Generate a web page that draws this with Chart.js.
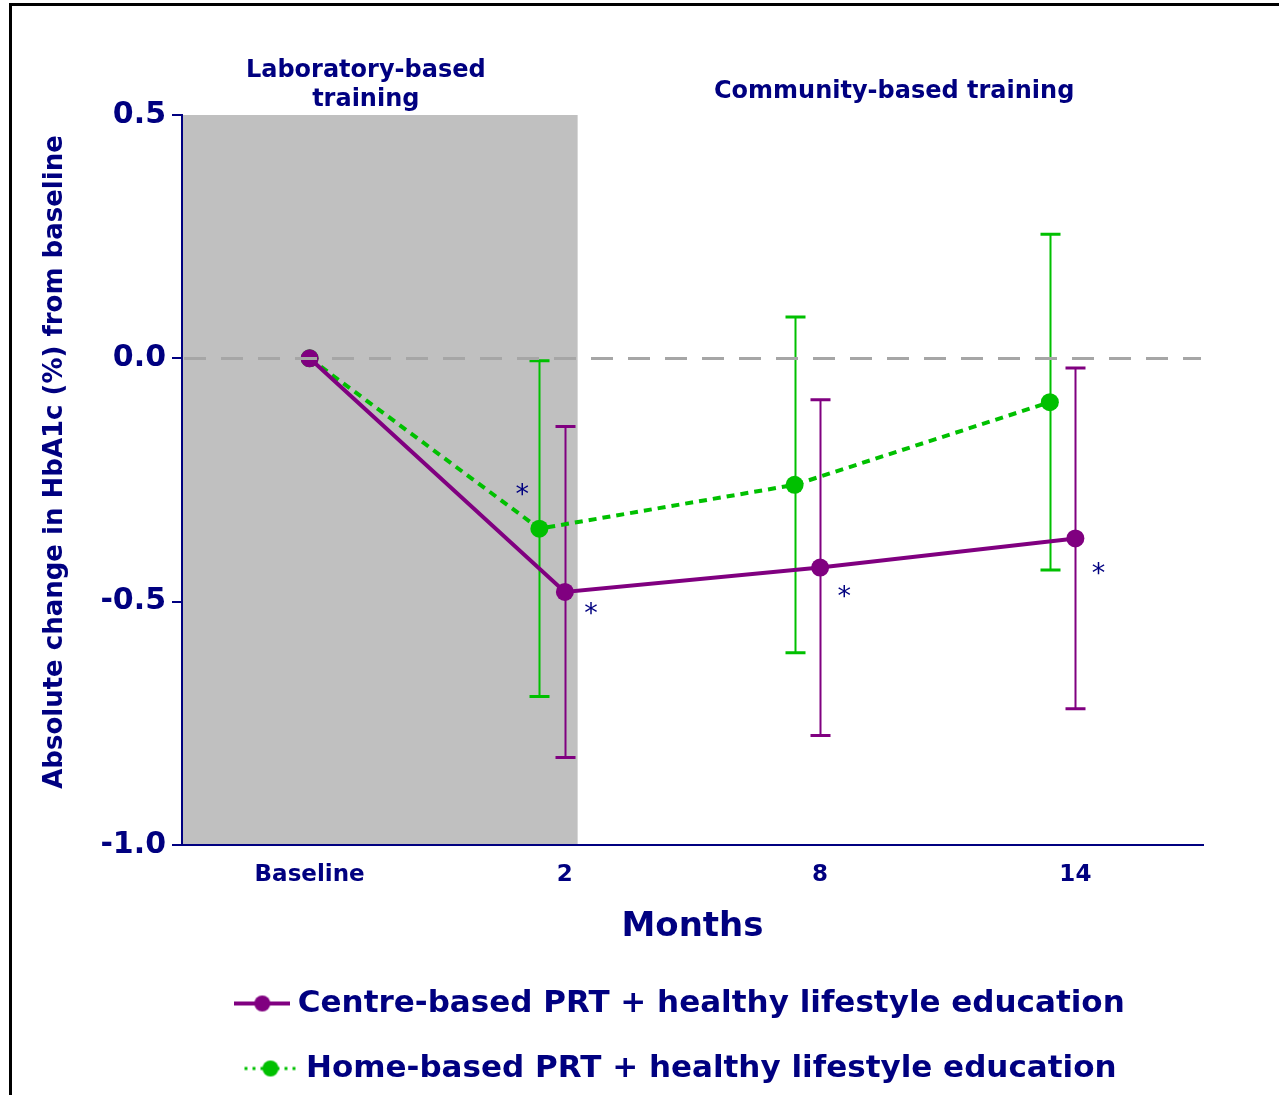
<!DOCTYPE html>
<html>
<head>
<meta charset="utf-8">
<script src="https://cdn.jsdelivr.net/npm/chart.js@4"></script>
<style>
  html, body { margin: 0; padding: 0; background: #fff; overflow: hidden; }
  #wrap { position: relative; width: 1279px; height: 1095px; overflow: hidden; }
  #frame { position: absolute; left: 9px; top: 3px; width: 1300px; height: 1120px;
           border-left: 3px solid #000; border-top: 3px solid #000; }
  canvas { position: absolute; left: 0; top: 0; }
</style>
</head>
<body>
<div id="wrap">
  <div id="frame"></div>
  <canvas id="chart" width="1279" height="1095"></canvas>
</div>
<script>
// Time points (months) and mean change in HbA1c (%) with error half-widths
const timepoints = ['Baseline', '2', '8', '14'];
const centreMean = [0, -0.48, -0.43, -0.37];
const centreErr  = [0, 0.34, 0.345, 0.35];
const homeMean   = [0, -0.35, -0.26, -0.09];
const homeErr    = [0, 0.345, 0.345, 0.345];
// significant within-group change from baseline
const centreSig  = [false, true, true, true];
const homeSig    = [false, true, false, false];
const yTicks     = [-1.0, -0.5, 0.0, 0.5];
const seriesNames = ['Centre-based PRT + healthy lifestyle education',
                     'Home-based PRT + healthy lifestyle education'];
const phaseNames = [['Laboratory-based', 'training'], ['Community-based training']];
const labPhaseEnd = 1.05;   // end of the laboratory phase on the x axis

const NAVY = '#000080';
const PURPLE = '#800080';
const GREEN = '#00c000';
const FONT = '"DejaVu Sans", Verdana, sans-serif';

// home-based points are dodged slightly left of the time point
const homeX = i => (i === 0 ? 0 : i - 0.1);

function legendIcon(color, dotted) {
  const c = document.createElement('canvas');
  c.width = 56; c.height = 22;
  const g = c.getContext('2d');
  g.strokeStyle = color;
  g.fillStyle = color;
  if (dotted) {
    g.lineWidth = 3;
    g.setLineDash([3, 5]);
    g.beginPath(); g.moveTo(2, 11); g.lineTo(56, 11); g.stroke();
  } else {
    g.lineWidth = 4;
    g.beginPath(); g.moveTo(0, 11); g.lineTo(56, 11); g.stroke();
  }
  g.beginPath(); g.arc(28, 11, 8, 0, Math.PI * 2); g.fill();
  return c;
}
const icons = [legendIcon(PURPLE, false), legendIcon(GREEN, true)];

const decorations = {
  id: 'decorations',
  afterLayout(chart) {
    // nudge the legend rows slightly left of the plot centre
    const lg = chart.legend;
    if (lg) { lg.left -= 9; lg.right -= 9; }
  },
  beforeDatasetsDraw(chart) {
    const {ctx, chartArea: a, scales: {x, y}} = chart;
    ctx.save();
    // shaded laboratory phase
    ctx.fillStyle = '#c0c0c0';
    const xe = x.getPixelForValue(labPhaseEnd);
    ctx.fillRect(a.left + 1, a.top, xe - a.left - 1, a.bottom - a.top - 1);
    // error bars
    const bars = [[centreMean, centreErr, i => i, PURPLE], [homeMean, homeErr, homeX, GREEN]];
    bars.forEach(([m, e, fx, col]) => {
      ctx.strokeStyle = col;
      m.forEach((v, i) => {
        if (!e[i]) return;
        const px = Math.round(x.getPixelForValue(fx(i))) + 0.5;
        const y1 = y.getPixelForValue(v + e[i]);
        const y2 = y.getPixelForValue(v - e[i]);
        ctx.lineWidth = 2;
        ctx.beginPath(); ctx.moveTo(px, y1); ctx.lineTo(px, y2); ctx.stroke();
        ctx.lineWidth = 3;
        ctx.beginPath();
        ctx.moveTo(px - 10, y1); ctx.lineTo(px + 10, y1);
        ctx.moveTo(px - 10, y2); ctx.lineTo(px + 10, y2);
        ctx.stroke();
      });
    });
    ctx.restore();
  },
  afterDatasetsDraw(chart) {
    const {ctx, chartArea: a, scales: {x, y}} = chart;
    ctx.save();
    // reference line at no change
    const y0 = Math.round(y.getPixelForValue(0)) + 0.5;
    ctx.strokeStyle = '#a6a6a6';
    ctx.lineWidth = 3;
    ctx.setLineDash([22, 15]);
    ctx.beginPath(); ctx.moveTo(a.left + 2, y0); ctx.lineTo(a.right - 2, y0); ctx.stroke();
    ctx.setLineDash([]);
    // significance markers
    ctx.fillStyle = NAVY;
    ctx.font = '27px ' + FONT;
    ctx.textAlign = 'center';
    ctx.textBaseline = 'alphabetic';
    const centreOff = [null, [26, 18], [24, 25], [23, 32]];
    const homeOff = [null, [-17, -38], null, null];
    centreSig.forEach((s, i) => {
      if (!s) return;
      const px = x.getPixelForValue(i) + centreOff[i][0];
      const py = y.getPixelForValue(centreMean[i]) + centreOff[i][1];
      ctx.fillText('*', px, py + 12);
    });
    homeSig.forEach((s, i) => {
      if (!s) return;
      const px = x.getPixelForValue(homeX(i)) + homeOff[i][0];
      const py = y.getPixelForValue(homeMean[i]) + homeOff[i][1];
      ctx.fillText('*', px, py + 12);
    });
    ctx.restore();
  },
  afterDraw(chart) {
    const {ctx, scales: {x}} = chart;
    ctx.save();
    ctx.fillStyle = NAVY;
    ctx.textAlign = 'center';
    ctx.textBaseline = 'alphabetic';
    ctx.font = 'bold 24px ' + FONT;
    const labX = x.getPixelForValue(0.22);
    ctx.fillText(phaseNames[0][0], labX, 77);
    ctx.fillText(phaseNames[0][1], labX, 106);
    ctx.fillText(phaseNames[1][0], x.getPixelForValue(2.29), 98);
    // y axis title
    ctx.font = 'bold 26px ' + FONT;
    ctx.textBaseline = 'middle';
    ctx.translate(55, 462);
    ctx.rotate(-Math.PI / 2);
    ctx.fillText('Absolute change in HbA1c (%) from baseline', 0, 0);
    ctx.restore();
  }
};

new Chart(document.getElementById('chart'), {
  type: 'line',
  data: {
    datasets: [
      {
        label: seriesNames[0],
        data: centreMean.map((v, i) => ({x: i, y: v})),
        borderColor: PURPLE,
        backgroundColor: PURPLE,
        borderWidth: 4,
        pointRadius: 9,
        pointBorderWidth: 0,
        pointBackgroundColor: PURPLE,
        tension: 0
      },
      {
        label: seriesNames[1],
        data: homeMean.map((v, i) => ({x: homeX(i), y: v})),
        borderColor: GREEN,
        backgroundColor: GREEN,
        borderWidth: 4,
        borderDash: [8, 6],
        pointRadius: 9,
        pointBorderWidth: 0,
        pointBackgroundColor: GREEN,
        tension: 0
      }
    ]
  },
  options: {
    responsive: false,
    animation: false,
    events: [],
    layout: {padding: {left: 0, top: 115, right: 76, bottom: 1}},
    plugins: {
      tooltip: {enabled: false},
      legend: {
        position: 'bottom',
        fullSize: false,
        labels: {
          usePointStyle: true,
          pointStyleWidth: 40,
          padding: 34,
          color: NAVY,
          font: {family: FONT, size: 31, weight: 'bold'},
          generateLabels: chart => chart.data.datasets.map((ds, i) => ({
            text: ds.label,
            pointStyle: icons[i],
            fillStyle: ds.borderColor,
            strokeStyle: ds.borderColor,
            fontColor: NAVY,
            lineWidth: 0,
            hidden: false,
            datasetIndex: i
          }))
        }
      }
    },
    scales: {
      x: {
        type: 'linear',
        min: -0.5,
        max: 3.5,
        afterBuildTicks: s => { s.ticks = timepoints.map((_, i) => ({value: i})); },
        afterFit: s => { s.height = 109; },
        ticks: {
          callback: v => timepoints[v],
          color: NAVY,
          font: {family: FONT, size: 23, weight: 'bold'},
          padding: 16,
          maxRotation: 0
        },
        grid: {display: false, drawTicks: false},
        border: {color: NAVY, width: 2},
        title: {
          display: true,
          text: 'Months',
          color: NAVY,
          font: {family: FONT, size: 34, weight: 'bold'},
          padding: {top: 0, bottom: 6}
        }
      },
      y: {
        min: -1,
        max: 0.5,
        afterBuildTicks: s => { s.ticks = yTicks.map(v => ({value: v})); },
        afterFit: s => { s.width = 182; },
        ticks: {
          callback: v => v.toFixed(1),
          color: NAVY,
          font: {family: FONT, size: 30, weight: 'bold'},
          padding: 6
        },
        grid: {drawOnChartArea: false, drawTicks: true, tickLength: 10, color: NAVY, lineWidth: 2},
        border: {color: NAVY, width: 2}
      }
    }
  },
  plugins: [decorations]
});
</script>
</body>
</html>
